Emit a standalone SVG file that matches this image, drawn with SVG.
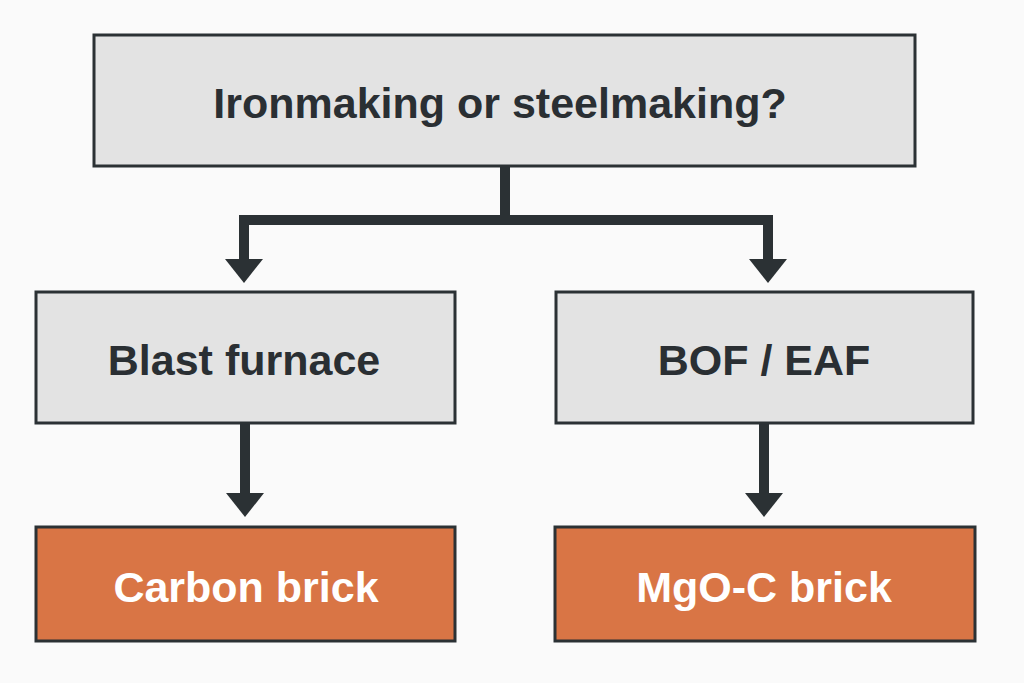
<svg xmlns="http://www.w3.org/2000/svg" width="1024" height="683" viewBox="0 0 1024 683">
<defs>
<style>
.box{fill:#e3e3e3;stroke:#2b3134;stroke-width:3}
.brick{fill:#d97545;stroke:#2b3134;stroke-width:3}
.lbl{font-family:"Liberation Sans",Arial,sans-serif;font-weight:bold;font-size:43px;text-anchor:middle;fill:#2a2f33}
.lblw{font-family:"Liberation Sans",Arial,sans-serif;font-weight:bold;font-size:43px;text-anchor:middle;fill:#ffffff}
.wire{fill:none;stroke:#2b3134;stroke-width:10}
.head{fill:#2b3134}
</style>
</defs>
<rect width="1024" height="683" fill="#fafafa"/>
<g id="connectors">
<path class="wire" d="M505 166 V220 H244 V262"/>
<path class="wire" d="M505 220 H768 V262"/>
<path class="wire" d="M245 423 V495"/>
<path class="wire" d="M764 423 V495"/>
<polygon class="head" points="225,259 263,259 244,283"/>
<polygon class="head" points="749,259 787,259 768,283"/>
<polygon class="head" points="226,493 264,493 245,517"/>
<polygon class="head" points="745,493 783,493 764,517"/>
</g>
<g id="n_top">
<rect class="box" x="94" y="35" width="821" height="131"/>
<text class="lbl" x="500" y="118">Ironmaking or steelmaking?</text>
</g>
<g id="n_bf">
<rect class="box" x="36" y="292" width="419" height="131"/>
<text class="lbl" x="244" y="375">Blast furnace</text>
</g>
<g id="n_bof">
<rect class="box" x="556" y="292" width="417" height="131"/>
<text class="lbl" x="764" y="375">BOF / EAF</text>
</g>
<g id="n_carbon">
<rect class="brick" x="36" y="527" width="419" height="114"/>
<text class="lblw" x="246" y="602">Carbon brick</text>
</g>
<g id="n_mgo">
<rect class="brick" x="555" y="527" width="420" height="114"/>
<text class="lblw" x="764" y="602">MgO-C brick</text>
</g>
</svg>
